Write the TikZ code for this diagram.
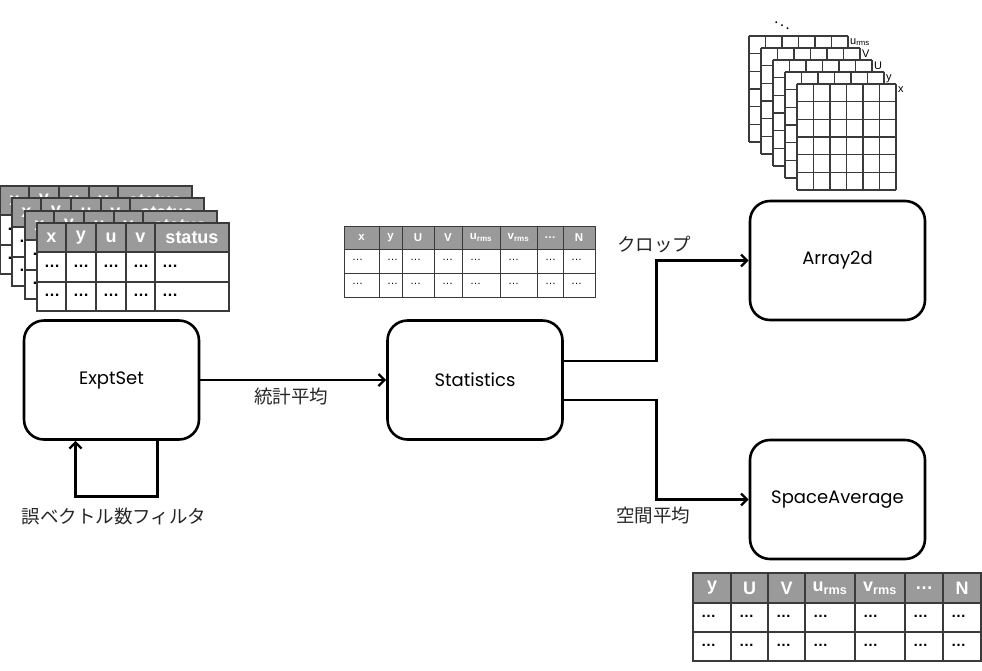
\documentclass[tikz,border=0pt]{standalone}
\usepackage{fontspec}
\setmainfont{Noto Sans CJK JP}
\newfontfamily\tabfont{Liberation Sans}
\newfontfamily\boxfont{Poppins}
\usetikzlibrary{arrows.meta}
\definecolor{hdrgray}{HTML}{9A9A9A}
\definecolor{rulegray}{HTML}{3A3A3A}

\begin{document}
\begin{tikzpicture}[x=1pt,y=-1pt,
					block/.style={rectangle,draw,line width=2.6pt,rounded corners=20pt,
						minimum width=175pt,minimum height=119pt,font=\boxfont\fontsize{18}{21}\selectfont},
					flow/.style={-{Straight Barb[length=6pt,width=12pt,line width=2.4pt]},line width=2.8pt},
					tag/.style={font=\fontsize{18.5}{21}\selectfont,text=black!85},
					rule/.style={draw=rulegray,line width=1.2pt},
					hdr/.style={fill=hdrgray},
					hdrtxt/.style={text=white,font=\tabfont\bfseries,inner sep=0pt},
					celltxt/.style={text=black,font=\tabfont,inner sep=0pt,anchor=west},
					glab/.style={font=\tabfont\fontsize{11}{12}\selectfont,inner sep=0pt,anchor=north west},
					]
					\useasboundingbox (0,0) rectangle (982,670);

					% main blocks
					\node [block] (expt) at (111.5,380) {ExptSet};
					\node [block] (stats) at (475,380) {Statistics};
					\node [block] (arr) at (837.5,260.5) {Array2d};
					\node [block] (spavg) at (837.5,499.5) {SpaceAverage};

					% connectors
					\draw[flow] (expt) -- (stats);
					\node [tag] (lblmean) at (291,396) {統計平均};
					\draw[flow] ([yshift=19pt]stats.east) -- ++(93,0) |- (arr);
					\node [tag] (lblcrop) at (654,245) {クロップ};
					\draw[flow] ([yshift=-20pt]stats.east) -- ++(93,0) |- (spavg);
					\node [tag] (lblspace) at (653,515) {空間平均};
					\draw[flow] ([xshift=46pt]expt.south) -- ++(0,56) -| ([xshift=-36pt]expt.south);
					\node [tag] (lblfilter) at (114,516) {誤ベクトル数フィルタ};

					% stacked tables of the experiment set
					\foreach \o in {37,25,12,0}{
						\begin{scope}[shift={(-\o,-\o)}]
							\fill[white] (37,223) rectangle (229,311);
							\fill[hdr] (37,223) rectangle (229,252);
							\foreach \xa/\xb/\lab in {37/66/x,66/96/y,96/126/u,126/155/v,155/229/status}{
								\node[hdrtxt,font=\tabfont\bfseries\fontsize{18}{19}\selectfont] (exh-\lab) at ({(\xa+\xb)/2},238) {\lab};
								\node[celltxt,font=\tabfont\bfseries\fontsize{16}{17}\selectfont] (exa-\lab) at (\xa+7,266) {…};
								\node[celltxt,font=\tabfont\bfseries\fontsize{16}{17}\selectfont] (exb-\lab) at (\xa+7,295) {…};
								\draw[rule] (\xa,223) -- (\xa,311);
							}
							\draw[rule] (37,223) rectangle (229,311) (37,252) -- (229,252) (37,282) -- (229,282);
						\end{scope}
					}

					% statistics table
					\fill[white] (344,226) rectangle (595,297);
					\fill[hdr] (344,226) rectangle (595,249);
					\foreach \xa/\xb/\lab [count=\i] in {344/379/x,379/402/y,402/434/U,434/462/V,462/500/u\textsubscript{rms},500/537/v\textsubscript{rms},537/563/…,563/595/N}{
						\node[hdrtxt,font=\tabfont\bfseries\fontsize{11.5}{12}\selectfont] (sth-\i) at ({(\xa+\xb)/2},237.5) {\lab};
						\node[celltxt,font=\tabfont\fontsize{11}{12}\selectfont] (sta-\i) at (\xa+8,260) {…};
						\node[celltxt,font=\tabfont\fontsize{11}{12}\selectfont] (stb-\i) at (\xa+8,284) {…};
						\draw[rule,line width=1pt] (\xa,226) -- (\xa,297);
					}
					\draw[rule,line width=1pt] (344,226) rectangle (595,297) (344,249) -- (595,249) (344,273) -- (595,273);

					% stacked grids of the 2d arrays
					\foreach \o/\lab in {48/u\textsubscript{rms},36/V,24/U,12/y,0/x}{
						\begin{scope}[shift={(-\o,-\o)}]
							\fill[white] (797,84) rectangle (896,190);
							\foreach \i in {0,...,6}{
								\draw[rule] (797+16.5*\i,84) -- ++(0,106);
								\draw[rule] (797,84+17.67*\i) -- ++(99,0);
							}
							\node[glab] (grid-\o) at (898,86) {\lab};
						\end{scope}
					}
					\node[font=\Large] (gdots) at (782,23) {$\ddots$};

					% space average table
					\fill[white] (693,573) rectangle (981,661);
					\fill[hdr] (693,573) rectangle (981,603);
					\foreach \xa/\xb/\lab [count=\i] in {693/731/y,731/768/U,768/805/V,805/855/u\textsubscript{rms},855/905/v\textsubscript{rms},905/943/…,943/981/N}{
						\node[hdrtxt,font=\tabfont\bfseries\fontsize{18}{19}\selectfont] (sah-\i) at ({(\xa+\xb)/2},588) {\lab};
						\node[celltxt,font=\tabfont\bfseries\fontsize{15}{16}\selectfont] (saa-\i) at (\xa+8,616) {…};
						\node[celltxt,font=\tabfont\bfseries\fontsize{15}{16}\selectfont] (sab-\i) at (\xa+8,645) {…};
						\draw[rule] (\xa,573) -- (\xa,661);
					}
					\draw[rule] (693,573) rectangle (981,661) (693,603) -- (981,603) (693,632) -- (981,632);
				\end{tikzpicture}
\end{document}
